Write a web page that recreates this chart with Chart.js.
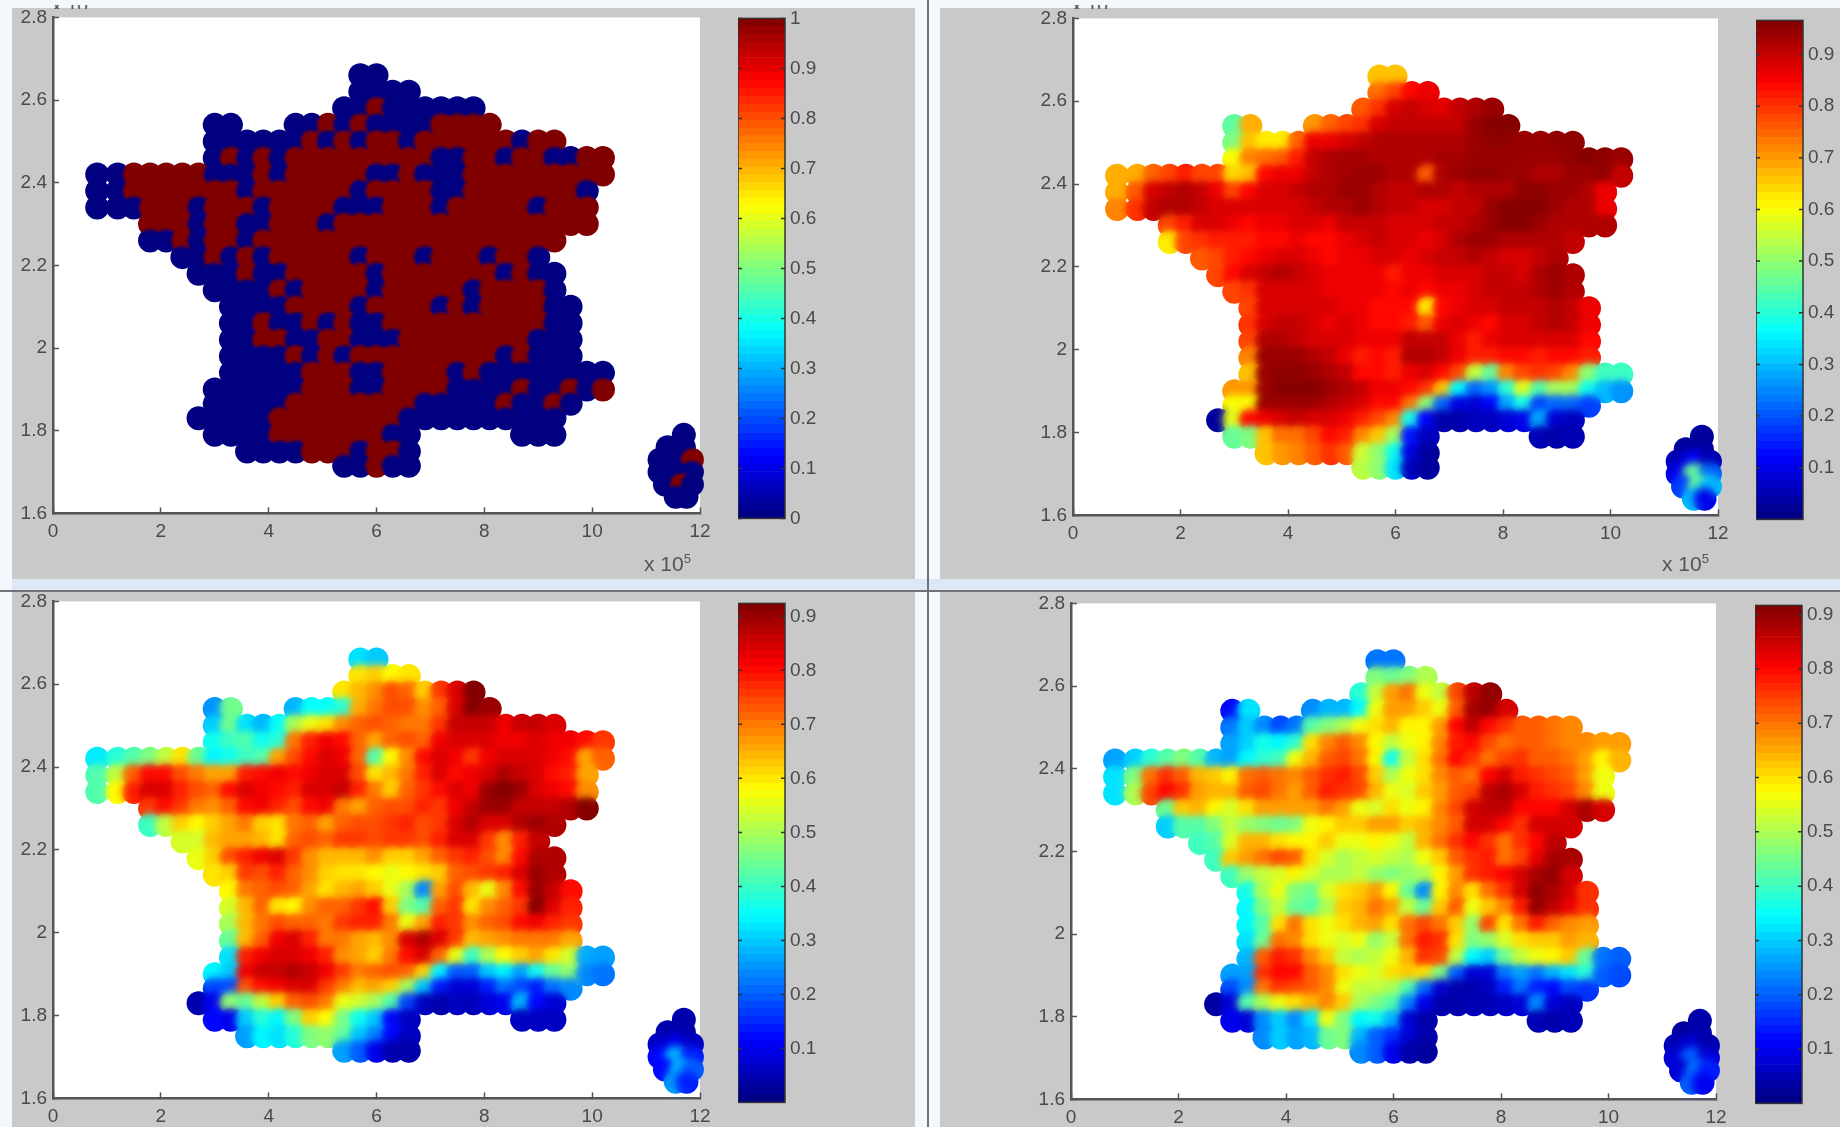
<!doctype html>
<html>
<head>
<meta charset="utf-8">
<title>France maps</title>
<style>
  html, body { margin: 0; padding: 0; }
  body { width: 1840px; height: 1127px; overflow: hidden; position: relative; background: #f4f7fb; font-family: "Liberation Sans", sans-serif; }
  .panel { position: absolute; background: #c9c9c9; }
  .band { position: absolute; background: #dce8f5; }
  .rule { position: absolute; background: #6f7376; }
  canvas { position: absolute; filter: blur(0.6px); }
  .mult { position: absolute; font-size: 21px; color: #555; filter: blur(0.5px); }
  .mult sup { font-size: 13px; }
  .cut { position: absolute; top: 5px; width: 48px; height: 4px; overflow: hidden; }
  .cut span { position: absolute; left: 0; top: -14px; font-size: 19px; color: #555; white-space: nowrap; }
</style>
</head>

<body>
  <div class="panel" style="left:12px;top:8px;width:903px;height:571px"></div>
  <div class="panel" style="left:940px;top:8px;width:900px;height:571px"></div>
  <div class="panel" style="left:12px;top:592px;width:903px;height:535px"></div>
  <div class="panel" style="left:940px;top:592px;width:900px;height:535px"></div>
  <div class="band" style="left:12px;top:579px;width:1828px;height:12px"></div>
  <div class="rule" style="left:0;top:590px;width:1840px;height:2px"></div>
  <div class="rule" style="left:927px;top:0;width:2px;height:1127px"></div>
  <span class="mult" style="left:644px;top:551px">x 10<sup>5</sup></span>
  <span class="mult" style="left:1662px;top:551px">x 10<sup>5</sup></span>
  <div class="cut" style="left:52px"><span>x 10<sup>6</sup></span></div>
  <div class="cut" style="left:1072px"><span>x 10<sup>6</sup></span></div>
  <script src="https://cdn.jsdelivr.net/npm/chart.js@4/dist/chart.umd.min.js"></script>
  <script>
    // map grid, x in 1e5, y in 1e6
    const X_COLUMNS = [0.82,1.2,1.5,1.8,2.1,2.4,2.7,3.0,3.3,3.6,3.9,4.2,4.5,4.8,5.1,5.4,5.7,6.0,6.3,6.6,6.9,7.2,7.5,7.8,8.1,8.4,8.7,9.0,9.3,9.6,9.9,10.2];
    const ROW_Y = [2.66,2.62,2.58,2.54,2.50,2.46,2.42,2.38,2.34,2.30,2.26,2.22,2.18,2.14,2.10,2.06,2.02,1.98,1.94,1.90,1.865,1.83,1.79,1.75,1.715];
    const ROW_START = [16,16,15,7,7,7,0,0,0,3,3,5,6,7,8,8,8,8,8,7,7,6,7,9,15];
    const CORSICA_X = [11.7,11.4,11.7,11.25,11.55,11.85,11.25,11.55,11.85,11.35,11.65,11.85,11.55,11.75];
    const CORSICA_Y = [1.79,1.76,1.76,1.73,1.73,1.73,1.70,1.70,1.70,1.67,1.67,1.67,1.64,1.64];

    const X_TICKS = [0,2,4,6,8,10,12];
    const Y_TICKS = [1.6,1.8,2,2.2,2.4,2.6,2.8];
    const BAR_TICKS_A = [0,0.1,0.2,0.3,0.4,0.5,0.6,0.7,0.8,0.9,1];
    const BAR_TICKS_B = [0.1,0.2,0.3,0.4,0.5,0.6,0.7,0.8,0.9];

    const P1_ROWS = [
      [0,0],
      [0,0,0,0],
      [0,0,1,0,0,0,0,0,0],
      [0,0,null,null,null,0,0,1,0,1,0,0,0,0,1,1,1,1],
      [0,0,0,0,0,0,1,0,1,0,1,1,0,1,1,1,1,1,1,0,1,1],
      [0,1,0,1,0,1,1,1,1,1,1,1,1,1,0,0,1,1,0,1,1,0,0,1,1],
      [0,0,1,1,1,1,1,0,0,0,1,0,1,1,1,1,1,0,0,1,0,0,0,1,1,1,1,1,1,1,1,1],
      [0,0,1,1,1,1,1,1,1,0,1,1,1,1,1,1,0,1,1,1,1,0,0,1,1,1,1,1,1,1,0],
      [0,0,0,1,1,1,0,1,1,1,0,1,1,1,1,0,0,0,1,1,1,0,1,1,1,1,1,0,1,1,1],
      [1,1,1,0,1,1,0,0,1,1,1,0,1,1,1,1,1,1,1,1,1,1,1,1,1,1,1,1],
      [0,0,1,0,1,1,0,1,1,1,1,1,1,1,1,1,1,1,1,1,1,1,1,1,1,1],
      [0,0,1,0,1,0,1,1,1,1,1,0,1,1,1,0,1,1,1,0,1,1,0],
      [0,0,0,1,0,0,1,1,1,1,1,0,1,1,1,1,1,1,1,0,1,0,0],
      [0,0,0,0,1,0,1,1,1,1,0,1,1,1,1,1,0,1,1,1,1,0],
      [0,0,0,0,1,1,1,1,0,1,1,1,1,0,1,0,1,1,1,1,0,0],
      [0,0,1,0,0,1,0,1,0,0,1,1,1,1,1,1,1,1,1,1,0,0],
      [0,0,1,1,0,0,1,1,0,0,0,1,1,1,1,1,1,1,1,0,0,0],
      [0,0,0,0,1,0,1,0,1,1,1,1,1,1,1,1,1,0,1,0,0,0],
      [0,0,0,0,0,1,1,1,0,0,1,1,1,1,0,1,0,0,0,0,0,0,0,0],
      [0,0,0,0,0,0,1,1,1,0,0,1,1,1,1,0,0,0,0,1,0,0,1,0,1],
      [0,0,0,0,0,1,1,1,1,1,1,1,1,0,0,0,0,0,1,0,0,1,0],
      [0,0,0,0,0,1,1,1,1,1,1,1,1,0,0,0,0,0,0,0,0,0,0],
      [0,0,0,0,1,1,1,1,1,1,1,0,0,null,null,null,null,null,null,0,0,0],
      [0,0,0,0,1,1,1,0,1,1,0],
      [0,0,1,0,0]
    ];
    const P1_CORSICA = [0,0,0,0,0,1,0,0,0,0,1,0,0,0];

    const P2_ROWS = [
      [66,66],
      [74,78,84,86],
      [76,80,88,90,88,87,90,92,94],
      [45,68,null,null,null,70,75,78,80,88,90,90,90,90,90,94,96,96],
      [48,66,62,62,75,86,86,88,90,92,92,92,92,92,92,94,95,95,94,94,95,95],
      [60,72,74,76,82,90,92,93,93,92,92,92,92,93,93,94,94,94,94,94,94,95,96,95,94],
      [68,68,75,78,82,78,78,64,66,84,86,86,90,92,93,94,94,92,92,76,92,94,95,95,94,94,92,92,94,94,95,90],
      [68,76,88,90,92,90,86,78,84,88,88,90,92,92,94,94,92,90,90,92,92,90,92,92,92,95,95,94,94,92,86],
      [72,80,90,92,92,90,88,88,88,88,88,88,90,92,92,94,92,90,90,88,88,90,90,94,96,96,96,94,92,92,86],
      [78,82,88,88,86,84,86,86,88,88,86,90,90,90,88,88,88,90,90,92,94,96,96,94,92,92,92,92],
      [62,78,80,82,82,82,84,84,86,84,84,86,88,90,88,88,86,88,92,94,94,92,92,92,92,90],
      [76,78,82,84,86,88,88,86,84,86,86,88,88,86,88,90,90,92,90,88,88,90,92],
      [78,84,88,90,92,90,88,86,86,86,86,82,86,86,88,88,88,90,90,88,92,94,92],
      [78,80,88,88,88,88,86,86,86,86,84,86,84,86,86,88,90,90,90,92,94,92],
      [78,88,88,88,88,88,86,86,84,84,84,62,84,86,88,88,90,90,90,92,90,86],
      [80,88,90,90,88,86,88,86,84,84,82,76,86,88,86,84,88,88,90,92,90,86],
      [78,92,92,90,88,88,88,86,86,86,90,90,90,86,82,86,88,88,88,88,88,84],
      [72,94,94,94,92,90,86,82,84,82,92,92,90,86,82,82,84,84,82,84,84,82],
      [66,94,95,95,94,92,90,84,84,82,86,88,84,78,55,46,72,78,80,78,72,50,42,42],
      [70,70,94,96,96,96,94,92,90,86,86,84,80,66,36,22,26,40,58,44,52,52,38,30,26],
      [60,60,94,94,94,94,92,90,88,84,84,74,50,22,10,8,12,28,38,18,22,22,18],
      [3,58,84,86,88,90,88,88,86,82,78,72,38,12,4,4,6,6,8,10,28,8,6],
      [46,48,66,74,74,78,84,82,72,66,52,14,6,null,null,null,null,null,null,5,4,5],
      [66,70,72,76,80,76,56,50,38,10,3],
      [54,50,34,6,3]
    ];
    const P2_CORSICA = [3,3,3,5,12,5,10,46,22,18,46,30,30,10];

    const P3_ROWS = [
      [32,30],
      [60,62,58,60],
      [60,64,68,74,72,62,76,84,92],
      [25,45,null,null,null,28,35,35,38,65,70,74,74,68,72,84,92,90],
      [30,45,32,28,35,50,56,60,68,72,74,72,70,70,76,86,86,86,82,86,86,84],
      [36,40,42,36,38,70,78,82,80,72,66,72,74,72,82,84,84,84,82,82,84,82,82,80,76],
      [33,38,42,46,52,60,44,34,36,40,42,66,74,80,84,82,72,42,58,68,80,84,82,76,82,84,84,84,82,80,66,72],
      [42,52,72,80,80,74,70,66,66,78,80,82,80,82,84,84,74,60,64,70,78,84,80,82,84,88,86,84,80,78,66],
      [42,58,78,84,84,78,74,72,80,84,82,80,78,84,84,86,78,70,62,72,76,80,84,82,90,92,90,84,82,80,68],
      [76,80,76,70,68,72,80,82,78,74,80,82,70,66,72,74,74,78,76,82,86,90,90,86,86,86,88,92],
      [40,52,62,58,62,66,70,62,60,70,72,66,72,74,74,76,78,74,76,84,88,84,84,88,90,88],
      [54,54,64,66,66,64,60,72,74,72,76,76,74,76,76,74,78,84,84,76,68,78,86],
      [56,62,74,78,82,84,76,68,64,64,64,68,62,62,66,72,76,78,74,68,80,88,88],
      [60,62,76,74,78,72,68,62,60,60,58,56,58,60,62,72,74,76,78,84,90,88],
      [58,70,72,74,72,66,60,64,66,62,56,50,24,66,74,64,56,68,80,90,86,80],
      [54,64,72,60,58,68,72,72,76,80,62,46,42,72,76,60,68,72,76,92,84,78],
      [50,64,70,74,72,72,70,76,78,78,70,56,66,78,76,68,72,74,80,82,78,76],
      [44,64,72,82,84,78,70,70,66,64,68,84,88,84,76,64,66,68,70,70,70,66],
      [32,78,82,84,84,82,78,68,66,62,70,80,84,72,56,40,50,58,62,66,60,54,27,26],
      [34,30,82,86,86,88,86,82,76,70,72,74,72,62,34,20,20,30,34,26,36,44,48,24,22],
      [18,18,74,80,82,84,84,76,70,64,66,62,50,30,14,8,8,14,22,18,14,22,24],
      [4,10,48,44,52,62,72,74,70,56,54,50,42,18,6,4,6,5,8,10,28,12,8],
      [12,10,30,38,34,46,62,58,46,36,30,12,6,null,null,null,null,null,null,6,6,6],
      [26,34,32,38,46,48,44,30,24,12,6],
      [26,20,10,4,4]
    ];
    const P3_CORSICA = [4,4,4,6,10,6,12,28,14,12,28,20,26,14];

    const P4_ROWS = [
      [22,22],
      [46,44,46,50],
      [38,52,66,70,56,52,74,86,90],
      [12,32,null,null,null,24,28,28,34,56,66,66,62,56,72,88,90,84],
      [22,30,24,18,22,42,46,50,56,60,64,58,58,66,80,86,80,76,72,72,70,68],
      [26,30,36,34,38,60,68,72,68,58,52,56,58,68,78,80,74,70,72,72,70,68,68,66,66],
      [26,30,38,42,46,42,28,26,34,38,40,56,64,72,74,70,58,36,52,60,70,80,76,70,74,76,72,72,70,66,58,64],
      [32,46,70,76,72,64,62,58,70,72,70,68,72,76,78,74,62,50,56,60,68,72,70,80,84,78,76,74,72,66,56],
      [32,50,74,80,76,66,64,64,72,74,70,66,72,78,76,74,64,56,54,62,66,72,74,86,88,84,78,76,74,68,56],
      [44,62,64,58,54,60,66,66,66,66,70,66,56,54,60,56,58,68,74,84,86,86,80,80,80,84,88,84],
      [30,42,42,46,52,48,46,44,46,56,58,62,62,66,66,62,64,68,72,84,84,80,76,84,84,84],
      [40,42,54,64,64,60,58,58,62,56,56,58,56,52,64,70,76,80,76,70,76,80,86],
      [40,62,66,70,74,72,60,54,50,52,54,52,50,56,62,72,76,78,70,74,82,88,88],
      [40,48,52,54,58,54,50,50,52,48,46,48,50,58,66,76,78,80,84,88,90,84],
      [36,50,56,46,44,54,60,62,66,58,44,24,58,68,60,70,76,84,90,88,84,76],
      [34,46,52,44,42,50,62,64,70,66,52,44,62,72,56,62,68,78,90,86,82,76],
      [34,42,60,70,60,56,60,64,66,60,70,74,70,62,48,74,60,70,78,72,68,66],
      [32,44,70,68,60,56,54,56,48,52,70,78,76,60,46,48,54,60,62,62,66,64],
      [28,72,78,76,68,62,52,50,52,56,64,76,74,52,34,30,44,52,56,58,62,44,22,20],
      [26,26,76,80,80,72,68,60,56,54,60,62,60,46,20,8,8,22,26,22,28,32,38,20,18],
      [18,24,70,76,74,72,68,56,52,52,50,42,22,8,4,4,6,14,22,14,12,18,16],
      [3,8,42,50,56,60,64,68,62,50,46,42,24,10,4,4,5,5,6,8,24,8,6],
      [10,8,24,30,24,32,56,46,34,36,28,8,4,null,null,null,null,null,null,5,4,5],
      [24,30,26,28,44,46,28,20,16,8,4],
      [24,20,10,4,3]
    ];
    const P4_CORSICA = [4,3,4,5,8,4,8,20,8,8,22,14,20,10];

    const _COLOR_LEVELS = 64;
    const _POINT_RADIUS = 12;
    const _SOFT_RADIUS = 11;
    const _AXIS_COLOR = '#555';
    const _TEXT_COLOR = '#4a4a4a';
    const _FONT = { family: '"Liberation Sans", sans-serif', size: 19 };

    const panels = [
      { rows: P1_ROWS, corsica: P1_CORSICA, top: 1, barMax: 1, barTicks: BAR_TICKS_A, blur: 1.5,
        plot: [53,17,700,513], bar: [738,18,785,518] },
      { rows: P2_ROWS, corsica: P2_CORSICA, top: 96.6, barMax: 0.966, barTicks: BAR_TICKS_B, blur: 4,
        plot: [1073,18,1718,515], bar: [1756,20,1803,519] },
      { rows: P3_ROWS, corsica: P3_CORSICA, top: 92.4, barMax: 0.924, barTicks: BAR_TICKS_B, blur: 4,
        plot: [53,601,700,1098], bar: [738,603,785,1102] },
      { rows: P4_ROWS, corsica: P4_CORSICA, top: 91.7, barMax: 0.917, barTicks: BAR_TICKS_B, blur: 4,
        plot: [1071,603,1716,1099], bar: [1755,605,1802,1103] }
    ];

    function jet(t) {
      t = Math.max(0, Math.min(1, t));
      var f = function(c) { return Math.round(255 * Math.max(0, Math.min(1, 1.5 - Math.abs(4 * t - c)))); };
      return 'rgb(' + f(3) + ',' + f(2) + ',' + f(1) + ')';
    }

    function addCanvas(left, top, width, height) {
      var c = document.createElement('canvas');
      c.width = width;
      c.height = height;
      c.style.left = left + 'px';
      c.style.top = top + 'px';
      c.style.width = width + 'px';
      c.style.height = height + 'px';
      document.body.appendChild(c);
      return c;
    }

    // the layout keeps some room above the plot, so line the finished chart up with the wanted box
    function alignPlot(chart, canvas, wantTop, wantBottom) {
      var a = chart.chartArea;
      var h = chart.height + (wantBottom - wantTop) - (a.bottom - a.top);
      chart.resize(chart.width, h);
      canvas.style.top = (wantTop - chart.chartArea.top) + 'px';
    }

    // second dataset is painted soft and only on top of what the first one painted,
    // so the outline stays scalloped and the inside blends like the original
    const softLayer = {
      id: 'softLayer',
      beforeDatasetDraw: function(chart, args, opts) {
        if (args.index === 1) {
          chart.ctx.save();
          chart.ctx.globalCompositeOperation = 'source-atop';
          chart.ctx.filter = 'blur(' + opts.blur + 'px)';
        }
      },
      afterDatasetDraw: function(chart, args) {
        if (args.index === 1) chart.ctx.restore();
      },
      afterDraw: function(chart) {
        var a = chart.chartArea, ctx = chart.ctx;
        ctx.save();
        ctx.globalCompositeOperation = 'destination-over';
        ctx.fillStyle = '#fff';
        ctx.fillRect(a.left, a.top, a.width, a.height);
        ctx.restore();
      }
    };

    // black frame and the side ticks of the colour bar
    const barFrame = {
      id: 'barFrame',
      afterDraw: function(chart) {
        var a = chart.chartArea, ctx = chart.ctx, s = chart.scales.y;
        ctx.strokeStyle = '#333';
        ctx.lineWidth = 1.5;
        ctx.strokeRect(a.left, a.top, a.width, a.height);
        s.ticks.forEach(function(t) {
          var p = s.getPixelForValue(t.value);
          ctx.beginPath();
          ctx.moveTo(a.left, p);
          ctx.lineTo(a.left + 4, p);
          ctx.moveTo(a.right, p);
          ctx.lineTo(a.right - 4, p);
          ctx.stroke();
        });
      }
    };

    function drawMap(panel) {
      var points = [], colors = [];
      panel.rows.forEach(function(row, r) {
        row.forEach(function(v, i) {
          if (v === null) return;
          points.push({ x: X_COLUMNS[ROW_START[r] + i], y: ROW_Y[r] });
          colors.push(jet(v / panel.top));
        });
      });
      panel.corsica.forEach(function(v, i) {
        points.push({ x: CORSICA_X[i], y: CORSICA_Y[i] });
        colors.push(jet(v / panel.top));
      });

      var p = panel.plot, axisW = 50, axisH = 36, padTop = 12, padRight = 25;
      var canvas = addCanvas(p[0] - axisW, p[1] - padTop, p[2] - p[0] + axisW + padRight, p[3] - p[1] + padTop + axisH);
      var chart = new Chart(canvas, {
        type: 'scatter',
        data: { datasets: [
          { data: points, order: 2, pointBackgroundColor: colors, pointBorderWidth: 0, pointRadius: _POINT_RADIUS, clip: false },
          { data: points, order: 1, pointBackgroundColor: colors, pointBorderWidth: 0, pointRadius: _SOFT_RADIUS, clip: false }
        ] },
        plugins: [softLayer],
        options: {
          responsive: false,
          maintainAspectRatio: false,
          animation: false,
          layout: { padding: { left: 0, top: padTop, right: padRight, bottom: 0 } },
          plugins: { legend: { display: false }, tooltip: { enabled: false }, softLayer: { blur: panel.blur } },
          scales: {
            x: {
              type: 'linear', min: 0, max: 12,
              afterBuildTicks: function(s) { s.ticks = X_TICKS.map(function(v) { return { value: v }; }); },
              afterFit: function(s) { s.height = axisH; },
              border: { color: _AXIS_COLOR, width: 2.5 },
              grid: { drawOnChartArea: false, tickLength: -6, color: _AXIS_COLOR, tickWidth: 1.5 },
              ticks: { color: _TEXT_COLOR, font: _FONT, maxRotation: 0, padding: 13,
                callback: function(v) { return String(v); } }
            },
            y: {
              type: 'linear', min: 1.6, max: 2.8,
              afterBuildTicks: function(s) { s.ticks = Y_TICKS.map(function(v) { return { value: v }; }); },
              afterFit: function(s) { s.width = axisW; },
              border: { color: _AXIS_COLOR, width: 2.5 },
              grid: { drawOnChartArea: false, tickLength: -6, color: _AXIS_COLOR, tickWidth: 1.5 },
              ticks: { color: _TEXT_COLOR, font: _FONT, padding: 12,
                callback: function(v) { return String(v); } }
            }
          }
        }
      });
      alignPlot(chart, canvas, p[1], p[3]);
    }

    function drawBar(panel) {
      var b = panel.bar, padTop = 12, labelW = 40, padBottom = 12;
      var canvas = addCanvas(b[0], b[1] - padTop, b[2] - b[0] + labelW, b[3] - b[1] + padTop + padBottom);
      var sets = [];
      for (var i = 0; i < _COLOR_LEVELS; i++) {
        sets.push({
          data: [panel.barMax / _COLOR_LEVELS],
          backgroundColor: jet((i + 0.5) / _COLOR_LEVELS),
          barPercentage: 1,
          categoryPercentage: 1,
          borderWidth: 0
        });
      }
      var chart = new Chart(canvas, {
        type: 'bar',
        data: { labels: [''], datasets: sets },
        plugins: [barFrame],
        options: {
          responsive: false,
          maintainAspectRatio: false,
          animation: false,
          layout: { padding: { left: 0, top: padTop, right: 0, bottom: padBottom } },
          plugins: { legend: { display: false }, tooltip: { enabled: false } },
          scales: {
            x: { stacked: true, display: false },
            y: {
              stacked: true, position: 'right', min: 0, max: panel.barMax,
              afterBuildTicks: function(s) { s.ticks = panel.barTicks.map(function(v) { return { value: v }; }); },
              afterFit: function(s) { s.width = labelW; },
              border: { display: false },
              grid: { display: false, drawTicks: false },
              ticks: { color: _TEXT_COLOR, font: _FONT, padding: 5,
                callback: function(v) { return String(v); } }
            }
          }
        }
      });
      alignPlot(chart, canvas, b[1], b[3]);
    }

    panels.forEach(function(panel) {
      drawMap(panel);
      drawBar(panel);
    });
  </script>
</body>
</html>
